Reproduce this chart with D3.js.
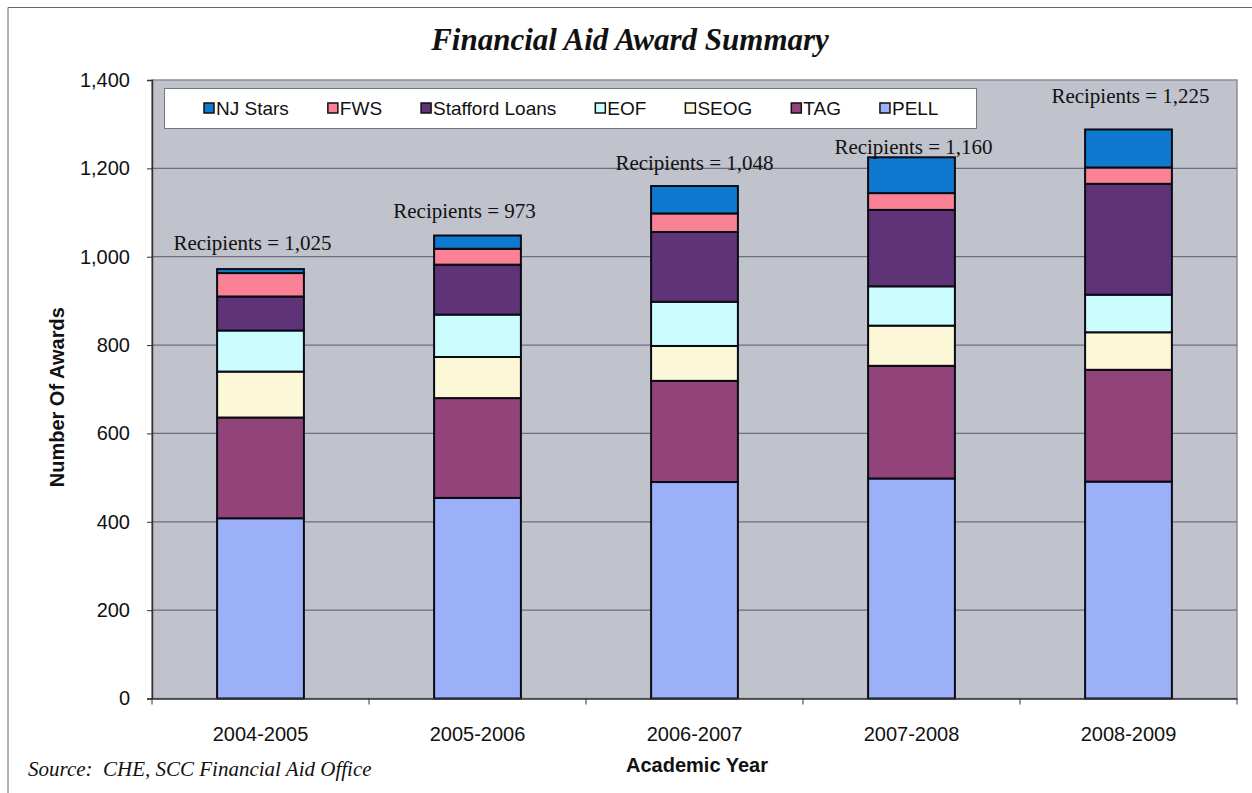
<!DOCTYPE html>
<html>
<head>
<meta charset="utf-8">
<script src="https://cdn.jsdelivr.net/npm/d3@7"></script>
<style>
  body { margin: 0; background: #fff; }
  svg { display: block; }
  .sans { font-family: "Liberation Sans", Arial, sans-serif; fill: #111; }
  .serif { font-family: "Liberation Serif", "Times New Roman", serif; fill: #111; }
</style>
</head>
<body>
<div id="chart"></div>
<script>
// values (awards per academic year)
const years = ['2004-2005', '2005-2006', '2006-2007', '2007-2008', '2008-2009'];
const pell = [408, 454, 490, 498, 491];
const tag = [228, 226, 229, 255, 253];
const seog = [104, 93, 79, 91, 85];
const eof = [93, 96, 100, 89, 85];
const stafford = [77, 113, 158, 173, 251];
const fws = [53, 36, 42, 38, 37];
const njStars = [9, 30, 62, 81, 86];
const recipients = [1025, 973, 1048, 1160, 1225];
const yTicks = [0, 200, 400, 600, 800, 1000, 1200, 1400];

// stacking order bottom -> top
const seriesKeys = ['PELL', 'TAG', 'SEOG', 'EOF', 'Stafford Loans', 'FWS', 'NJ Stars'];
const seriesValues = [pell, tag, seog, eof, stafford, fws, njStars];
const legendOrder = ['NJ Stars', 'FWS', 'Stafford Loans', 'EOF', 'SEOG', 'TAG', 'PELL'];

const colors = {
  'PELL': '#9cb0fa',
  'TAG': '#92437a',
  'SEOG': '#fbf7d7',
  'EOF': '#ccfdfe',
  'Stafford Loans': '#5f3378',
  'FWS': '#fb8296',
  'NJ Stars': '#0f79cf'
};

const rows = years.map((year, i) => {
  const row = { year };
  seriesKeys.forEach((k, j) => { row[k] = seriesValues[j][i]; });
  return row;
});

const width = 1252;
const height = 793;
const plot = { left: 152, right: 1237, top: 80, bottom: 698.5 };

// small nudges so the recipient labels sit where the original put them
const labelDx = [-8, -13, 0, 2, 2];
const labelDy = [-19, -18, -16, -3, -26];

const svg = d3.select('#chart').append('svg')
  .attr('width', width)
  .attr('height', height);

// outer frame
svg.append('path')
  .attr('d', `M8,${height} V7.5 H${width}`)
  .attr('fill', 'none')
  .attr('stroke', '#666')
  .attr('stroke-width', 1);

const x = d3.scaleBand()
  .domain(years)
  .range([plot.left, plot.right])
  .paddingInner(0.6)
  .paddingOuter(0.3);

const y = d3.scaleLinear()
  .domain([0, 1400])
  .range([plot.bottom, plot.top]);

// plot background
svg.append('rect')
  .attr('x', plot.left)
  .attr('y', plot.top)
  .attr('width', plot.right - plot.left)
  .attr('height', plot.bottom - plot.top)
  .attr('fill', '#c0c2cc')
  .attr('stroke', '#8a8d9c')
  .attr('stroke-width', 1.5);

// gridlines
svg.append('g')
  .selectAll('line')
  .data(yTicks.filter(d => d > 0 && d < 1400))
  .enter()
  .append('line')
  .attr('x1', plot.left)
  .attr('x2', plot.right)
  .attr('y1', d => y(d))
  .attr('y2', d => y(d))
  .attr('stroke', '#6b6f80')
  .attr('stroke-width', 1.2);

// bars
const stacked = d3.stack().keys(seriesKeys)(rows);

svg.append('g')
  .selectAll('g')
  .data(stacked)
  .enter()
  .append('g')
  .attr('fill', d => colors[d.key])
  .selectAll('rect')
  .data(d => d)
  .enter()
  .append('rect')
  .attr('x', d => x(d.data.year))
  .attr('width', x.bandwidth())
  .attr('y', d => y(d[1]))
  .attr('height', d => y(d[0]) - y(d[1]))
  .attr('stroke', '#0a0a14')
  .attr('stroke-width', 2);

// y axis
const yAxis = svg.append('g')
  .attr('transform', `translate(${plot.left},0)`)
  .call(d3.axisLeft(y).tickValues(yTicks).tickFormat(d3.format(',')).tickSize(5).tickPadding(17));
yAxis.select('.domain').attr('stroke', '#333').attr('stroke-width', 1.5);
yAxis.selectAll('.tick line').attr('stroke', '#333');
yAxis.selectAll('text')
  .attr('class', 'sans')
  .style('font-size', '20px');

// x axis
const xAxis = svg.append('g')
  .attr('transform', `translate(0,${plot.bottom})`)
  .call(d3.axisBottom(x).tickSize(0).tickPadding(28));
xAxis.select('.domain').attr('stroke', '#333').attr('stroke-width', 1.5);
xAxis.selectAll('text')
  .attr('class', 'sans')
  .style('font-size', '20px');

// category separators below the axis
const step = x.step();
xAxis.selectAll('.sep')
  .data(d3.range(years.length + 1))
  .enter()
  .append('line')
  .attr('class', 'sep')
  .attr('x1', i => plot.left + i * step)
  .attr('x2', i => plot.left + i * step)
  .attr('y1', 0)
  .attr('y2', 6)
  .attr('stroke', '#333');

// recipient labels
svg.append('g')
  .selectAll('text')
  .data(rows)
  .enter()
  .append('text')
  .attr('class', 'serif')
  .attr('text-anchor', 'middle')
  .attr('x', (d, i) => x(d.year) + x.bandwidth() / 2 + labelDx[i])
  .attr('y', (d, i) => y(d3.sum(seriesKeys, k => d[k])) + labelDy[i])
  .style('font-size', '21px')
  .text((d, i) => `Recipients = ${d3.format(',')(recipients[i])}`);

// legend
const legend = svg.append('g');
legend.append('rect')
  .attr('x', 164.5)
  .attr('y', 88.5)
  .attr('width', 812)
  .attr('height', 40)
  .attr('fill', '#fff')
  .attr('stroke', '#777')
  .attr('stroke-width', 1);

let lx = 204;
legendOrder.forEach((key) => {
  legend.append('rect')
    .attr('x', lx)
    .attr('y', 103)
    .attr('width', 10)
    .attr('height', 10)
    .attr('fill', colors[key])
    .attr('stroke', '#111')
    .attr('stroke-width', 1.5);
  const t = legend.append('text')
    .attr('class', 'sans')
    .attr('x', lx + 12)
    .attr('y', 115)
    .style('font-size', '19px')
    .text(key);
  lx += 12 + t.node().getComputedTextLength() + 39;
});

// titles
svg.append('text')
  .attr('class', 'serif')
  .attr('x', 630)
  .attr('y', 50)
  .attr('text-anchor', 'middle')
  .style('font-size', '31px')
  .style('font-weight', 'bold')
  .style('font-style', 'italic')
  .text('Financial Aid Award Summary');

svg.append('text')
  .attr('class', 'sans')
  .attr('x', 697)
  .attr('y', 772)
  .attr('text-anchor', 'middle')
  .style('font-size', '20px')
  .style('font-weight', 'bold')
  .text('Academic Year');

svg.append('text')
  .attr('class', 'sans')
  .attr('transform', `translate(64,${(plot.top + plot.bottom) / 2 + 8}) rotate(-90)`)
  .attr('text-anchor', 'middle')
  .style('font-size', '20px')
  .style('font-weight', 'bold')
  .text('Number Of Awards');

svg.append('text')
  .attr('class', 'serif')
  .attr('x', 28)
  .attr('y', 776)
  .style('font-size', '21px')
  .style('font-style', 'italic')
  .style('white-space', 'pre')
  .text('Source:  CHE, SCC Financial Aid Office');
</script>
</body>
</html>
